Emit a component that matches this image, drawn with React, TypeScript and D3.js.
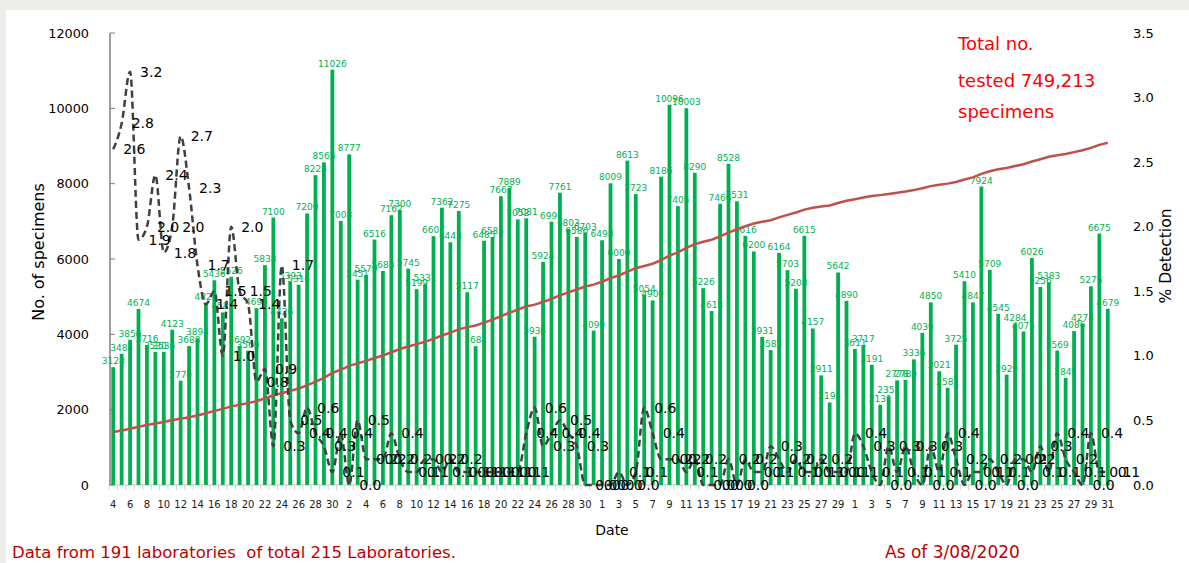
import React from 'react';
import * as d3 from 'd3';

// daily number of specimens tested, 4 Apr - 31 Jul 2020
const testsApr = [3128, 3484, 3856, 4674, 3716, 3530, 3536, 4123, 2770, 3688, 3894, 4829, 5436, 4582, 5526, 3692, 3569, 4695, 5838, 7100, 4426, 5393, 5316, 7209, 8225, 8565, 11026];
const testsMay = [7008, 8777, 5451, 5579, 6516, 5683, 7162, 7300, 5745, 5199, 5331, 6607, 7362, 6443, 7275, 5117, 3684, 6485, 6585, 7667, 7889, 7052, 7081, 3936, 5924, 6991, 7761, 6803, 6586, 6703, 4099];
const testsJun = [6498, 8009, 6000, 8613, 7723, 5054, 4900, 8186, 10096, 7405, 10003, 8290, 5226, 4618, 7466, 8528, 7531, 6616, 6200, 3931, 3585, 6164, 5703, 5208, 6615, 4157, 2911, 2191, 5642, 4890];
const testsJul = [3611, 3717, 3191, 2131, 2351, 2778, 2789, 3336, 4039, 4850, 3021, 2581, 3725, 5410, 4847, 7924, 5709, 4545, 2929, 4284, 4075, 6026, 5256, 5383, 3569, 2841, 4086, 4274, 5275, 6675, 4679];

// % detection
const detApr = [2.6, 2.8, 3.2, 1.9, 2.0, 2.4, 1.8, 2.0, 2.7, 2.3, 1.7, 1.4, 1.5, 1.0, 2.0, 1.5, 1.4, 0.8, 0.9, 0.3, 1.7, 0.5, 0.4, 0.6, 0.4, 0.3, 0.1];
const detMay = [0.4, 0.0, 0.5, 0.2, 0.2, 0.2, 0.4, 0.2, 0.1, 0.1, 0.2, 0.2, 0.1, 0.2, 0.1, 0.1, 0.1, 0.1, 0.1, 0.1, 0.1, 0.1, 0.4, 0.6, 0.3, 0.4, 0.5, 0.4, 0.3, 0.0, 0.0];
const detJun = [0.0, 0.0, 0.1, 0.0, 0.1, 0.6, 0.4, 0.2, 0.2, 0.2, 0.1, 0.2, 0.0, 0.0, 0.0, 0.2, 0.0, 0.2, 0.1, 0.1, 0.3, 0.2, 0.1, 0.2, 0.1, 0.1, 0.2, 0.1, 0.1, 0.1];
const detJul = [0.4, 0.3, 0.1, 0.0, 0.3, 0.1, 0.3, 0.1, 0.0, 0.3, 0.1, 0.4, 0.2, 0.0, 0.1, 0.1, 0.2, 0.1, 0.0, 0.2, 0.2, 0.1, 0.3, 0.1, 0.4, 0.2, 0.1, 0.0, 0.4, 0.1, 0.1];

const totalTested = 749213;
const firstDay = new Date(2020, 3, 4);
const lastDay = new Date(2020, 6, 31);

const leftTicks = [0, 2000, 4000, 6000, 8000, 10000, 12000];
const rightTicks = [0, 0.5, 1, 1.5, 2, 2.5, 3, 3.5];

const tests = [...testsApr, ...testsMay, ...testsJun, ...testsJul];
const detection = [...detApr, ...detMay, ...detJun, ...detJul];
const days = d3.timeDay.range(firstDay, d3.timeDay.offset(lastDay, 1));

const font = '"DejaVu Sans", Verdana, sans-serif';

const App: React.FC = () => {
  const W = 1189, H = 563;
  const top = 33, bottom = 485;

  const x = d3.scaleBand<number>()
    .domain(d3.range(days.length))
    .range([109, 1112])
    .paddingInner(0.55)
    .paddingOuter(0.275);
  const cx = (i: number) => (x(i) ?? 0) + x.bandwidth() / 2;

  const y = d3.scaleLinear().domain([0, 12000]).range([bottom, top]);
  const yPct = d3.scaleLinear().domain([0, 3.5]).range([bottom, top]);

  // cumulative total, drawn on a hidden axis
  const base = totalTested - d3.sum(tests);
  const cum = Array.from(d3.cumsum(tests), v => v + base);
  const yCum = d3.scaleLinear().domain([-17700, 995300]).range([bottom, top]);

  const cumLine = d3.line<number>()
    .x((_, i) => cx(i))
    .y(d => yCum(d));
  const pctLine = d3.line<number>()
    .x((_, i) => cx(i))
    .y(d => yPct(d))
    .curve(d3.curveMonotoneX);

  const step = x.step();
  const x0 = x.range()[0];

  return (
    <svg width={W} height={H} style={{ position: 'absolute', left: 0, top: 0 }} fontFamily={font}>
      <rect width={W} height={H} fill="#eeece8" />
      <rect x={6} y={10} width={W - 6} height={H - 10} fill="#ffffff" />

      {/* x axis */}
      <line x1={x0} x2={x0 + step * days.length} y1={bottom} y2={bottom} stroke="#d9d9d9" strokeWidth={1.5} />
      {d3.range(days.length + 1).map(i => (
        <line key={'xt' + i} x1={x0 + i * step} x2={x0 + i * step} y1={bottom} y2={bottom + 5} stroke="#d0d0d0" />
      ))}
      {days.map((d, i) => i % 2 === 0 ? (
        <text key={'xl' + i} x={cx(i)} y={508} textAnchor="middle" fontSize={10} fill="#1a1a1a">{d.getDate()}</text>
      ) : null)}
      <text x={612} y={535} textAnchor="middle" fontSize={14} fill="#000">Date</text>

      {/* left axis */}
      <line x1={110} x2={110} y1={top} y2={bottom} stroke="#7f7f7f" strokeWidth={1.5} />
      {leftTicks.map(t => (
        <g key={'yl' + t}>
          <line x1={110} x2={115} y1={y(t)} y2={y(t)} stroke="#7f7f7f" />
          <text x={89} y={y(t)} textAnchor="end" dominantBaseline="central" fontSize={12.8} fill="#000">{t}</text>
        </g>
      ))}
      <text transform={`translate(38,252) rotate(-90)`} textAnchor="middle" dominantBaseline="central" fontSize={16} fill="#000">No. of specimens</text>

      {/* right axis */}
      {rightTicks.map(t => (
        <text key={'yr' + t} x={1133} y={yPct(t)} dominantBaseline="central" fontSize={13} fill="#000">{t.toFixed(1)}</text>
      ))}
      <text transform={`translate(1166,256) rotate(-90)`} textAnchor="middle" dominantBaseline="central" fontSize={15.5} fill="#000">% Detection</text>

      {/* bars */}
      {tests.map((v, i) => (
        <rect key={'b' + i} x={x(i)} y={y(v)} width={x.bandwidth()} height={bottom - y(v)} fill="#00b050" />
      ))}
      {tests.map((v, i) => (
        <text key={'bl' + i} x={cx(i)} y={y(v) - 3} textAnchor="middle" fontSize={9} fill="#00b050">{v}</text>
      ))}

      {/* cumulative line */}
      <path d={cumLine(cum) ?? ''} fill="none" stroke="#c0504d" strokeWidth={2.5} />

      {/* detection line */}
      <path d={pctLine(detection) ?? ''} fill="none" stroke="#404040" strokeWidth={2.5} strokeDasharray="7 4" />
      {detection.map((v, i) => (
        <text key={'dl' + i} x={cx(i) + 10} y={yPct(v)} dominantBaseline="central" fontSize={14} fill="#000">{v.toFixed(1)}</text>
      ))}

      {/* notes */}
      <g fill="#ff0000" fontSize={18}>
        <text x={958} y={50}>Total no.</text>
        <text x={958} y={87}>tested 749,213</text>
        <text x={958} y={118}>specimens</text>
      </g>
      <text x={12} y={558} fontSize={16.5} fill="#c00000" style={{ whiteSpace: 'pre' }}>Data from 191 laboratories  of total 215 Laboratories.</text>
      <text x={885} y={558} fontSize={17} fill="#c00000">As of 3/08/2020</text>
    </svg>
  );
};

export default App;
